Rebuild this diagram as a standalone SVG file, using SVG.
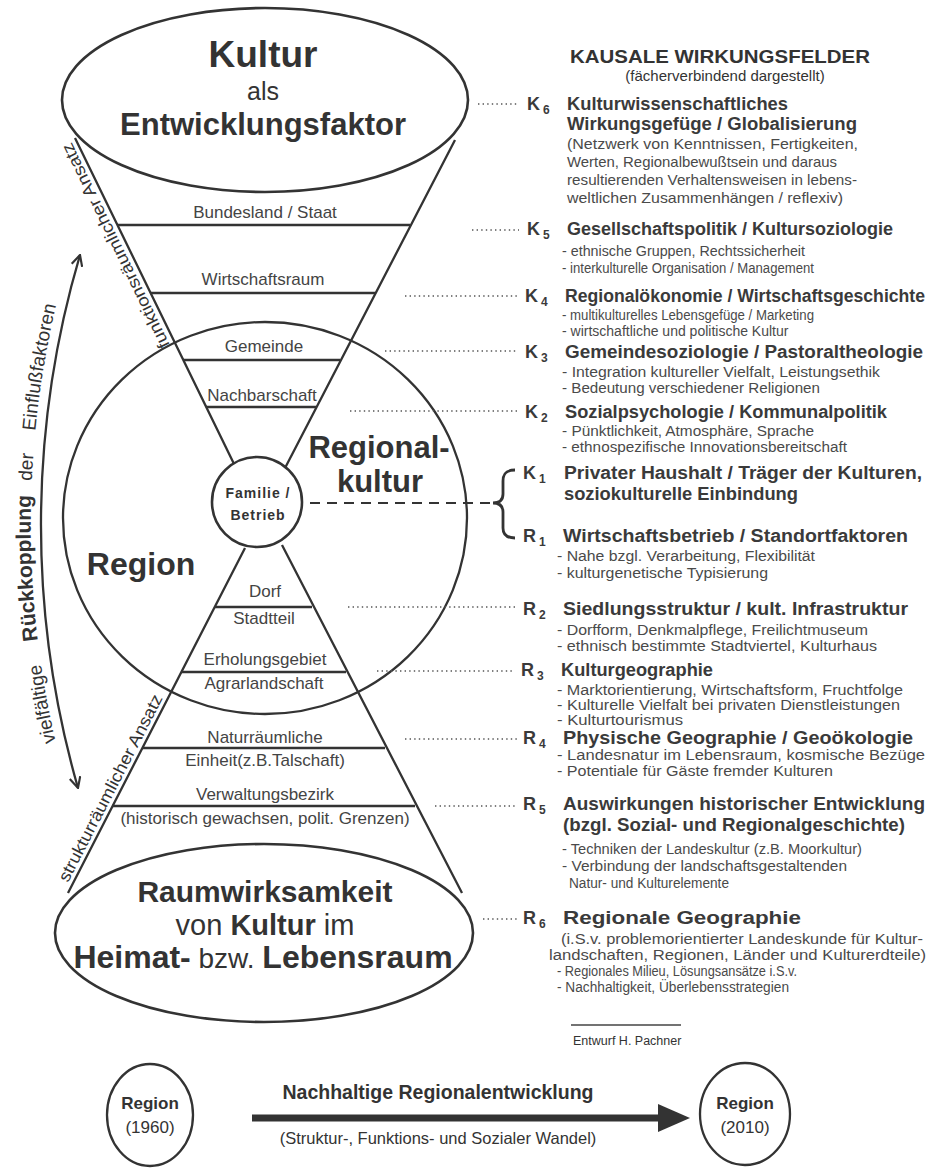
<svg xmlns="http://www.w3.org/2000/svg" width="927" height="1169" viewBox="0 0 927 1169">
<defs>
<style>
.ln{stroke:#333;stroke-width:2.3;fill:none}
.sh{stroke:#333;stroke-width:2.6;fill:#fff}
.t{font-family:"Liberation Sans",Arial,sans-serif;fill:#333}
.b{font-weight:bold}
.lbl{font-family:"Liberation Sans",Arial,sans-serif;fill:#444;font-size:17px;text-anchor:middle}
.ttl{font-family:"Liberation Sans",Arial,sans-serif;fill:#3a3a3a;font-size:17.5px;font-weight:bold}
.key{font-family:"Liberation Sans",Arial,sans-serif;fill:#3a3a3a;font-size:18px;font-weight:bold}
.sub{font-size:12px}
.bul{font-family:"Liberation Sans",Arial,sans-serif;fill:#4a4a4a;font-size:14px}
.dsc{font-family:"Liberation Sans",Arial,sans-serif;fill:#4a4a4a;font-size:15px}
.dot{stroke:#555;stroke-width:1.6;stroke-dasharray:1.4 3.2;fill:none}
.mid{text-anchor:middle}
</style>
<marker id="oa" viewBox="0 0 12 12" refX="11" refY="6" markerWidth="13" markerHeight="13" markerUnits="userSpaceOnUse" orient="auto-start-reverse">
<path d="M1,1 L11,6 L1,11" stroke="#333" stroke-width="2" fill="none"/>
</marker>
<path id="fbArc" d="M64,775 A959,959 0 0 1 73,243"/>
</defs>
<rect width="927" height="1169" fill="#fff"/>

<g id="funnel">
<path class="ln" d="M75,138 L236,468 M455,140 L284,470 M245,548 L68,893 M282,545 L462,893"/>
<g id="level-bundesland"><line class="ln" x1="117" y1="225" x2="410" y2="225"/><text class="lbl" x="265" y="218">Bundesland / Staat</text></g>
<g id="level-wirtschaftsraum"><line class="ln" x1="150" y1="293" x2="375" y2="293"/><text class="lbl" x="263" y="285">Wirtschaftsraum</text></g>
<g id="level-gemeinde"><line class="ln" x1="183" y1="360" x2="340" y2="360"/><text class="lbl" x="264" y="352">Gemeinde</text></g>
<g id="level-nachbarschaft"><line class="ln" x1="206" y1="407" x2="316" y2="407"/><text class="lbl" x="262" y="401">Nachbarschaft</text></g>
<g id="level-dorf"><line class="ln" x1="215" y1="607" x2="312" y2="607"/><text class="lbl" x="265" y="597">Dorf</text><text class="lbl" x="264" y="624">Stadtteil</text></g>
<g id="level-erholung"><line class="ln" x1="181" y1="672" x2="346" y2="672"/><text class="lbl" x="265" y="665">Erholungsgebiet</text><text class="lbl" x="264" y="689">Agrarlandschaft</text></g>
<g id="level-natur"><line class="ln" x1="142" y1="748" x2="385" y2="748"/><text class="lbl" x="265" y="743">Naturräumliche</text><text class="lbl" x="265" y="766">Einheit(z.B.Talschaft)</text></g>
<g id="level-verwaltung"><line class="ln" x1="112" y1="806" x2="415" y2="806" stroke-width="3.2"/><text class="lbl" x="265" y="800">Verwaltungsbezirk</text><text class="lbl" x="265" y="824">(historisch gewachsen, polit. Grenzen)</text></g>
<text class="t" font-size="17" transform="translate(170,345) rotate(-115.9)" textLength="226" lengthAdjust="spacingAndGlyphs">funktionsräumlicher Ansatz</text>
<text class="t" font-size="17" transform="translate(68,883) rotate(-62.8)" textLength="208" lengthAdjust="spacingAndGlyphs">strukturräumlicher Ansatz</text>
</g>

<g id="region">
<ellipse class="ln" cx="265" cy="518" rx="202" ry="196" stroke-width="2.6"/>
<text class="t b" font-size="32" x="141" y="575" text-anchor="middle">Region</text>
<text class="t b" font-size="31" x="379" y="458" text-anchor="middle">Regional-</text>
<text class="t b" font-size="31" x="380" y="492" text-anchor="middle">kultur</text>
</g>

<g id="familie">
<circle class="sh" cx="257" cy="502" r="45"/>
<text class="t b mid" font-size="14" letter-spacing="1" x="258" y="498">Familie /</text>
<text class="t b mid" font-size="14" letter-spacing="1" x="258" y="520">Betrieb</text>
</g>

<g id="kultur">
<ellipse class="sh" cx="265" cy="100" rx="203" ry="92"/>
<text class="t b mid" font-size="37" x="263" y="67">Kultur</text>
<text class="t mid" font-size="25" x="263" y="100">als</text>
<text class="t b mid" font-size="31" x="263" y="135">Entwicklungsfaktor</text>
</g>

<g id="raumwirksamkeit">
<ellipse class="sh" cx="264" cy="933" rx="209" ry="89"/>
<text class="t b mid" font-size="30" x="265" y="902">Raumwirksamkeit</text>
<text class="t mid" font-size="29" x="265" y="935">von <tspan class="b">Kultur</tspan> im</text>
<text class="t mid" font-size="32" x="263" y="968"><tspan class="b">Heimat-</tspan><tspan font-size="28"> bzw. </tspan><tspan class="b">Lebensraum</tspan></text>
</g>

<g id="rueckkopplung">
<text class="t" font-size="19"><textPath href="#fbArc" startOffset="34">vielfältige</textPath></text>
<text class="t b" font-size="21"><textPath href="#fbArc" startOffset="137">Rückkopplung</textPath></text>
<text class="t" font-size="19"><textPath href="#fbArc" startOffset="297">der</textPath></text>
<text class="t" font-size="19"><textPath href="#fbArc" startOffset="347">Einflußfaktoren</textPath></text>
</g>

<g id="heading">
<text class="t b mid" font-size="18.5" x="720" y="63" textLength="300" lengthAdjust="spacingAndGlyphs">KAUSALE WIRKUNGSFELDER</text>
<text class="t mid" font-size="15" x="725" y="81" fill="#444">(fächerverbindend dargestellt)</text>
</g>

<g id="field-k6">
<text class="key" x="527" y="110">K<tspan class="sub" dx="3" dy="4">6</tspan></text>
<text class="ttl" x="567" y="110" textLength="221" lengthAdjust="spacingAndGlyphs">Kulturwissenschaftliches</text>
<text class="ttl" x="567" y="130" textLength="290" lengthAdjust="spacingAndGlyphs">Wirkungsgefüge / Globalisierung</text>
<text class="dsc" x="567" y="149" textLength="291" lengthAdjust="spacingAndGlyphs">(Netzwerk von Kenntnissen, Fertigkeiten,</text>
<text class="dsc" x="567" y="167" textLength="270" lengthAdjust="spacingAndGlyphs">Werten, Regionalbewußtsein und daraus</text>
<text class="dsc" x="567" y="185" textLength="290" lengthAdjust="spacingAndGlyphs">resultierenden Verhaltensweisen in lebens-</text>
<text class="dsc" x="567" y="203" textLength="276" lengthAdjust="spacingAndGlyphs">weltlichen Zusammenhängen / reflexiv)</text>
</g>

<g id="field-k5">
<text class="key" x="527" y="235">K<tspan class="sub" dx="3" dy="4">5</tspan></text>
<text class="ttl" x="567" y="235" textLength="326" lengthAdjust="spacingAndGlyphs">Gesellschaftspolitik / Kultursoziologie</text>
<text class="bul" x="562" y="256" textLength="243" lengthAdjust="spacingAndGlyphs">- ethnische Gruppen, Rechtssicherheit</text>
<text class="bul" x="562" y="273" textLength="252" lengthAdjust="spacingAndGlyphs">- interkulturelle Organisation / Management</text>
</g>

<g id="field-k4">
<text class="key" x="525" y="302">K<tspan class="sub" dx="3" dy="4">4</tspan></text>
<text class="ttl" x="565" y="302" textLength="360" lengthAdjust="spacingAndGlyphs">Regionalökonomie / Wirtschaftsgeschichte</text>
<text class="bul" x="562" y="320" textLength="252" lengthAdjust="spacingAndGlyphs">- multikulturelles Lebensgefüge / Marketing</text>
<text class="bul" x="562" y="336">- wirtschaftliche und politische Kultur</text>
</g>

<g id="field-k3">
<text class="key" x="525" y="358">K<tspan class="sub" dx="3" dy="4">3</tspan></text>
<text class="ttl" x="565" y="358" textLength="358" lengthAdjust="spacingAndGlyphs">Gemeindesoziologie / Pastoraltheologie</text>
<text class="bul" x="562" y="377" textLength="318" lengthAdjust="spacingAndGlyphs">- Integration kultureller Vielfalt, Leistungsethik</text>
<text class="bul" x="562" y="393" textLength="258" lengthAdjust="spacingAndGlyphs">- Bedeutung verschiedener Religionen</text>
</g>

<g id="field-k2">
<text class="key" x="525" y="418">K<tspan class="sub" dx="3" dy="4">2</tspan></text>
<text class="ttl" x="565" y="418" textLength="322" lengthAdjust="spacingAndGlyphs">Sozialpsychologie / Kommunalpolitik</text>
<text class="bul" x="562" y="436" textLength="252" lengthAdjust="spacingAndGlyphs">- Pünktlichkeit, Atmosphäre, Sprache</text>
<text class="bul" x="562" y="452" textLength="285" lengthAdjust="spacingAndGlyphs">- ethnospezifische Innovationsbereitschaft</text>
</g>

<g id="field-k1">
<text class="key" x="523" y="479">K<tspan class="sub" dx="3" dy="4">1</tspan></text>
<text class="ttl" x="564" y="479" textLength="358" lengthAdjust="spacingAndGlyphs">Privater Haushalt / Träger der Kulturen,</text>
<text class="ttl" x="564" y="500" textLength="234" lengthAdjust="spacingAndGlyphs">soziokulturelle Einbindung</text>
</g>

<g id="field-r1">
<text class="key" x="523" y="542">R<tspan class="sub" dx="3" dy="4">1</tspan></text>
<text class="ttl" x="563" y="542" textLength="345" lengthAdjust="spacingAndGlyphs">Wirtschaftsbetrieb / Standortfaktoren</text>
<text class="bul" x="557" y="561" textLength="258" lengthAdjust="spacingAndGlyphs">- Nahe bzgl. Verarbeitung, Flexibilität</text>
<text class="bul" x="557" y="578" textLength="211" lengthAdjust="spacingAndGlyphs">- kulturgenetische Typisierung</text>
</g>

<g id="field-r2">
<text class="key" x="523" y="615">R<tspan class="sub" dx="3" dy="4">2</tspan></text>
<text class="ttl" x="563" y="615" textLength="345" lengthAdjust="spacingAndGlyphs">Siedlungsstruktur / kult. Infrastruktur</text>
<text class="bul" x="557" y="635" textLength="311" lengthAdjust="spacingAndGlyphs">- Dorfform, Denkmalpflege, Freilichtmuseum</text>
<text class="bul" x="557" y="651" textLength="320" lengthAdjust="spacingAndGlyphs">- ethnisch bestimmte Stadtviertel, Kulturhaus</text>
</g>

<g id="field-r3">
<text class="key" x="521" y="676">R<tspan class="sub" dx="3" dy="4">3</tspan></text>
<text class="ttl" x="561" y="676" textLength="152" lengthAdjust="spacingAndGlyphs">Kulturgeographie</text>
<text class="bul" x="557" y="695" textLength="346" lengthAdjust="spacingAndGlyphs">- Marktorientierung, Wirtschaftsform, Fruchtfolge</text>
<text class="bul" x="557" y="710" textLength="343" lengthAdjust="spacingAndGlyphs">- Kulturelle Vielfalt bei privaten Dienstleistungen</text>
<text class="bul" x="557" y="725" textLength="126" lengthAdjust="spacingAndGlyphs">- Kulturtourismus</text>
</g>

<g id="field-r4">
<text class="key" x="523" y="744">R<tspan class="sub" dx="3" dy="4">4</tspan></text>
<text class="ttl" x="563" y="744" textLength="350" lengthAdjust="spacingAndGlyphs">Physische Geographie / Geoökologie</text>
<text class="bul" x="557" y="760" textLength="368" lengthAdjust="spacingAndGlyphs">- Landesnatur im Lebensraum, kosmische Bezüge</text>
<text class="bul" x="557" y="776" textLength="276" lengthAdjust="spacingAndGlyphs">- Potentiale für Gäste fremder Kulturen</text>
</g>

<g id="field-r5">
<text class="key" x="523" y="810">R<tspan class="sub" dx="3" dy="4">5</tspan></text>
<text class="ttl" x="563" y="810" textLength="362" lengthAdjust="spacingAndGlyphs">Auswirkungen historischer Entwicklung</text>
<text class="ttl" x="563" y="831" textLength="342" lengthAdjust="spacingAndGlyphs">(bzgl. Sozial- und Regionalgeschichte)</text>
<text class="bul" x="562" y="854" textLength="300" lengthAdjust="spacingAndGlyphs">- Techniken der Landeskultur (z.B. Moorkultur)</text>
<text class="bul" x="562" y="871" textLength="285" lengthAdjust="spacingAndGlyphs">- Verbindung der landschaftsgestaltenden</text>
<text class="bul" x="569" y="888" textLength="160" lengthAdjust="spacingAndGlyphs">Natur- und Kulturelemente</text>
</g>

<g id="field-r6">
<text class="key" x="523" y="924">R<tspan class="sub" dx="3" dy="4">6</tspan></text>
<text class="ttl" x="563" y="924" textLength="238" lengthAdjust="spacingAndGlyphs">Regionale Geographie</text>
<text class="bul" x="561" y="944" font-size="15.5" textLength="362" lengthAdjust="spacingAndGlyphs">(i.S.v. problemorientierter Landeskunde für Kultur-</text>
<text class="bul" x="549" y="960" font-size="15.5" textLength="377" lengthAdjust="spacingAndGlyphs">landschaften, Regionen, Länder und Kulturerdteile)</text>
<text class="bul" x="557" y="976" textLength="240" lengthAdjust="spacingAndGlyphs">- Regionales Milieu, Lösungsansätze i.S.v.</text>
<text class="bul" x="557" y="992" textLength="232" lengthAdjust="spacingAndGlyphs">- Nachhaltigkeit, Überlebensstrategien</text>
</g>

<g id="credit">
<line x1="571" y1="1025" x2="681" y2="1025" stroke="#444" stroke-width="1.6"/>
<text class="t" font-size="12.5" x="573" y="1045" fill="#444">Entwurf H. Pachner</text>
</g>

<g id="region-1960">
<ellipse class="ln" cx="150" cy="1115" rx="43" ry="51"/>
<text class="t b mid" font-size="17" x="150" y="1109">Region</text>
<text class="t mid" font-size="17" x="150" y="1133">(1960)</text>
</g>

<g id="region-2010">
<ellipse class="ln" cx="745" cy="1114" rx="45" ry="51"/>
<text class="t b mid" font-size="17" x="745" y="1109">Region</text>
<text class="t mid" font-size="17" x="745" y="1133">(2010)</text>
</g>

<g id="connectors">
<path class="ln" d="M80,255 A953,953 0 0 0 78,788" marker-start="url(#oa)" marker-end="url(#oa)"/>
<path class="dot" d="M478,104 H519 M472,230 H519 M405,296 H518 M385,351 H518 M350,411 H518 M348,607 H516 M377,671 H515 M405,739 H517 M435,806 H517 M483,919 H518"/>
<line x1="310" y1="503" x2="492" y2="503" stroke="#333" stroke-width="2" stroke-dasharray="10 7"/>
<path d="M515,470 C506,470 503,474 503,481 L503,494 C503,500 500,503 493,503 C500,503 503,506 503,512 L503,528 C503,534 506,538 515,538" stroke="#333" stroke-width="2.8" fill="none"/>
<line x1="252" y1="1118" x2="662" y2="1118" stroke="#333" stroke-width="7"/>
<polygon points="658,1104 690,1118 658,1132" fill="#333"/>
<text class="t b mid" font-size="19.5" x="438" y="1099">Nachhaltige Regionalentwicklung</text>
<text class="t mid" font-size="16.5" x="438" y="1144" fill="#444">(Struktur-, Funktions- und Sozialer Wandel)</text>
</g>
</svg>
